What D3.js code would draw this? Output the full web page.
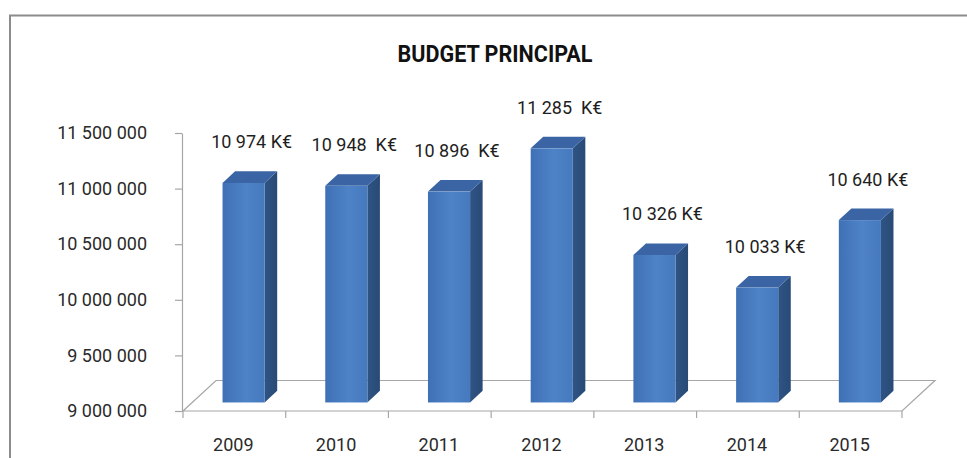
<!DOCTYPE html>
<html>
<head>
<meta charset="utf-8">
<script src="https://cdn.jsdelivr.net/npm/d3@7/dist/d3.min.js"></script>
<style>
  html, body { margin: 0; padding: 0; background: #ffffff; }
  svg { display: block; }
  text { font-family: Roboto, "Noto Sans", sans-serif; fill: #1e1e1e; }
</style>
</head>
<body>
<svg id="chart" width="967" height="458"></svg>
<script>
// Budget principal, 2009-2015 (euros)
const years = ["2009", "2010", "2011", "2012", "2013", "2014", "2015"];
const budget = [10974000, 10948000, 10896000, 11285000, 10326000, 10033000, 10640000];
const valueLabels = ["10 974 K€", "10 948  K€", "10 896  K€", "11 285  K€", "10 326 K€", "10 033 K€", "10 640 K€"];
const yTicks = [9000000, 9500000, 10000000, 10500000, 11000000, 11500000];
const title = "BUDGET PRINCIPAL";

const svg = d3.select("#chart");
const W = 967, H = 458;

// Outer frame of the chart area
svg.append("path")
  .attr("d", `M10,${H + 5} L10,15.5 L${W + 5},15.5`)
  .attr("fill", "none")
  .attr("stroke", "#8c8c8c")
  .attr("stroke-width", 2);

// Title
svg.append("text")
  .attr("x", 495)
  .attr("y", 62)
  .attr("text-anchor", "middle")
  .attr("font-size", 24)
  .attr("font-weight", 700)
  .attr("textLength", 195)
  .attr("lengthAdjust", "spacingAndGlyphs")
  .style("fill", "#111")
  .text(title);

// Scales
const x = d3.scaleBand().domain(years).range([183, 902]).padding(0);
const y = d3.scaleLinear().domain([9000000, 11500000]).range([411, 133]);

// Oblique depth vector of the floor, and the bar's position along it
const depth = { dx: 33, dy: -30.5 };
const f1 = 0.28, f2 = 0.66;
const barW = x.bandwidth() * 0.41;
const y0 = y.domain()[0];

// Floor (parallelogram)
const fx0 = x.range()[0], fx1 = x.range()[1], fy = y(y0);
const floor = svg.append("g").attr("fill", "none").attr("stroke", "#a6a6a6").attr("stroke-width", 1.2);
floor.append("path")
  .attr("d", `M${fx0},${fy} L${fx1},${fy} L${fx1 + depth.dx},${fy + depth.dy} L${fx0 + depth.dx},${fy + depth.dy} Z`);

// Category boundary ticks on the front edge
floor.selectAll("line.ctick")
  .data(years.map((d, i) => i).concat([years.length]))
  .join("line")
  .attr("class", "ctick")
  .attr("x1", i => fx0 + i * x.bandwidth())
  .attr("x2", i => fx0 + i * x.bandwidth())
  .attr("y1", fy)
  .attr("y2", fy + 7);

// Value axis
const fmt = d3.formatLocale({ decimal: ",", thousands: " ", grouping: [3], currency: ["", " €"] }).format(",d");
const yAxis = svg.append("g")
  .attr("transform", `translate(${fx0 - 1},0)`)
  .call(d3.axisLeft(y).tickValues(yTicks).tickSize(7).tickSizeOuter(0).tickPadding(28).tickFormat(fmt));
yAxis.select(".domain").attr("stroke", "#a6a6a6").attr("stroke-width", 1.2);
yAxis.selectAll(".tick line").attr("stroke", "#a6a6a6").attr("stroke-width", 1.2);
yAxis.selectAll(".tick text")
  .attr("font-size", 18)
  .attr("font-family", "Roboto, sans-serif")
  .style("fill", "#2a2a2a");

// Category labels
svg.append("g")
  .selectAll("text")
  .data(years)
  .join("text")
  .attr("x", d => x(d) + x.bandwidth() / 2 - 1)
  .attr("y", 451)
  .attr("text-anchor", "middle")
  .attr("font-size", 18)
  .style("fill", "#2a2a2a")
  .text(d => d);

// Gradients for the bar faces
const defs = svg.append("defs");
const gFront = defs.append("linearGradient").attr("id", "front").attr("x1", 0).attr("x2", 1).attr("y1", 0).attr("y2", 0);
gFront.append("stop").attr("offset", "0%").attr("stop-color", "#3f70b5");
gFront.append("stop").attr("offset", "55%").attr("stop-color", "#4e83c7");
gFront.append("stop").attr("offset", "100%").attr("stop-color", "#4679bd");
const gSide = defs.append("linearGradient").attr("id", "side").attr("x1", 0).attr("x2", 1).attr("y1", 0).attr("y2", 0);
gSide.append("stop").attr("offset", "0%").attr("stop-color", "#2f5484");
gSide.append("stop").attr("offset", "100%").attr("stop-color", "#284a76");

// Bars: front, side and top faces
const bars = svg.append("g")
  .selectAll("g.bar")
  .data(years.map((yr, i) => ({ yr, v: budget[i], label: valueLabels[i] })))
  .join("g")
  .attr("class", "bar");

const geom = d => {
  const xl = x(d.yr) + (x.bandwidth() - barW) / 2 + f1 * depth.dx;
  const xr = xl + barW;
  const top = y(d.v) + f1 * depth.dy;
  const bot = y(y0) + f1 * depth.dy;
  const ddx = (f2 - f1) * depth.dx, ddy = (f2 - f1) * depth.dy;
  return { xl, xr, top, bot, ddx, ddy };
};

bars.append("path")
  .attr("fill", "url(#side)")
  .attr("d", d => {
    const g = geom(d);
    return `M${g.xr},${g.top} L${g.xr + g.ddx},${g.top + g.ddy} L${g.xr + g.ddx},${g.bot + g.ddy} L${g.xr},${g.bot} Z`;
  });

bars.append("path")
  .attr("fill", "#3a64a3")
  .attr("d", d => {
    const g = geom(d);
    return `M${g.xl},${g.top} L${g.xl + g.ddx},${g.top + g.ddy} L${g.xr + g.ddx},${g.top + g.ddy} L${g.xr},${g.top} Z`;
  });

bars.append("rect")
  .attr("fill", "url(#front)")
  .attr("x", d => geom(d).xl)
  .attr("y", d => geom(d).top)
  .attr("width", barW)
  .attr("height", d => geom(d).bot - geom(d).top);

// Value labels above the bars
bars.append("text")
  .attr("x", d => geom(d).xl + barW / 2 + 8)
  .attr("y", d => geom(d).top + geom(d).ddy - 23)
  .attr("text-anchor", "middle")
  .attr("font-size", 18)
  .style("white-space", "pre")
  .attr("xml:space", "preserve")
  .text(d => d.label);
</script>
</body>
</html>
